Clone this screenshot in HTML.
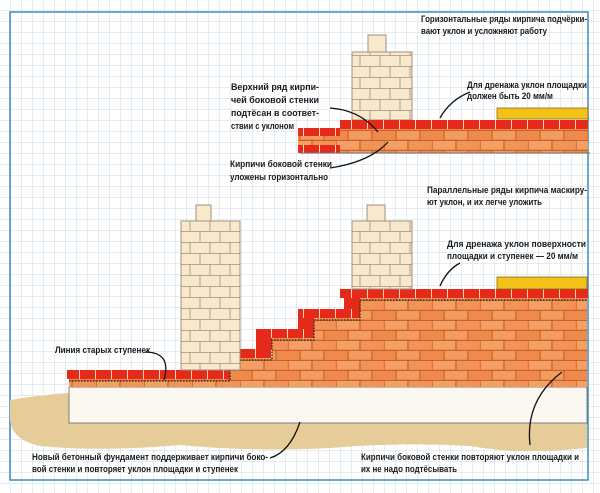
<!DOCTYPE html>
<html><head><meta charset="utf-8"><style>
html,body{margin:0;padding:0;background:#fff}
svg{display:block}
text{font-family:"Liberation Sans","DejaVu Sans",sans-serif;font-weight:bold;font-size:9px;fill:#1a1a1a}
</style></head><body>
<svg width="600" height="493" viewBox="0 0 600 493" xmlns="http://www.w3.org/2000/svg">
<defs>
<pattern id="grid" width="11" height="11" patternUnits="userSpaceOnUse">
<path d="M11 0V11H0" fill="none" stroke="#c9dbe8" stroke-width="1"/>
</pattern>
<pattern id="cream" x="0" y="0" width="40" height="22" patternUnits="userSpaceOnUse">
<rect width="40" height="22" fill="#f8e8cc"/>
<path d="M0 0.5H40M0 11.5H40M10 0V11M30 0V11M0 11V22M20 11V22M40 11V22" stroke="#a09080" stroke-width="0.8" fill="none"/>
</pattern>
<pattern id="orange" x="0" y="0" width="48" height="20" patternUnits="userSpaceOnUse">
<rect width="48" height="20" fill="#ef8a4a"/>
<rect x="1" y="1" width="22" height="8" fill="#f4a064"/>
<rect x="25" y="1" width="22" height="8" fill="#f29458"/>
<rect x="13" y="11" width="22" height="8" fill="#f39c60"/>
<path d="M0 0.5H48M0 10.5H48M0 0V10M24 0V10M12 10V20M36 10V20" stroke="#b8562a" stroke-width="0.8" fill="none"/>
</pattern>
<pattern id="red" x="0" y="0" width="16" height="10" patternUnits="userSpaceOnUse">
<rect width="16" height="10" fill="#e52a1a"/>
<path d="M15.5 0V10" stroke="#ffd0c0" stroke-width="1"/>
</pattern>
</defs>
<rect width="600" height="493" fill="#fff"/>
<rect width="600" height="493" fill="url(#grid)"/>
<rect x="10" y="12" width="578" height="468" fill="none" stroke="#3a8ec0" stroke-width="1.5"/>

<rect x="368" y="35" width="18" height="17" fill="#f8e8cc" stroke="#a09080"/>
<rect x="352" y="52" width="60" height="68" fill="url(#cream)" stroke="#a09080"/>
<rect x="298" y="128" width="290" height="25" fill="url(#orange)"/>
<rect x="298" y="128" width="42" height="8" fill="url(#red)"/>
<rect x="298" y="145" width="42" height="8" fill="url(#red)"/>
<rect x="340" y="120" width="248" height="9" fill="url(#red)"/>
<rect x="497" y="108" width="91" height="11" fill="#f2c21a" stroke="#8a6a10" stroke-width="0.8"/>
<line x1="300" y1="153" x2="590" y2="153" stroke="#777" stroke-width="1"/>

<path d="M10 400 Q40 395 69 393 L587 393 L587 448 Q520 455 470 446 Q400 442 330 448 Q250 452 180 445 Q100 452 40 446 Q12 440 10 420Z" fill="#e6cc98"/>
<rect x="69" y="387" width="518" height="36" fill="#fbf8f2" stroke="#666" stroke-width="0.8"/>

<path d="M69 379 H230 V358 H272 V338 H314 V318 H360 V298 H587 V387 H69Z" fill="url(#orange)"/>
<rect x="67" y="370" width="163" height="9" fill="url(#red)"/>
<rect x="212" y="349" width="60" height="9" fill="url(#red)"/>
<rect x="212" y="358" width="18" height="12" fill="#e52a1a"/>
<rect x="256" y="329" width="58" height="9" fill="url(#red)"/>
<rect x="256" y="338" width="16" height="11" fill="#e52a1a"/>
<rect x="298" y="309" width="62" height="9" fill="url(#red)"/>
<rect x="298" y="318" width="16" height="11" fill="#e52a1a"/>
<rect x="344" y="298" width="16" height="11" fill="#e52a1a"/>
<rect x="340" y="289" width="248" height="9" fill="url(#red)"/>
<path d="M69 381 H230 V360 H272 V340 H314 V320 H360 V300 H587" fill="none" stroke="#222" stroke-width="1.3" stroke-dasharray="1.5 1.5"/>
<rect x="196" y="205" width="15" height="16" fill="#f8e8cc" stroke="#a09080"/>
<rect x="181" y="221" width="59" height="149" fill="url(#cream)" stroke="#a09080"/>
<rect x="367" y="205" width="18" height="16" fill="#f8e8cc" stroke="#a09080"/>
<rect x="352" y="221" width="60" height="68" fill="url(#cream)" stroke="#a09080"/>
<rect x="497" y="277" width="90" height="12" fill="#f2c21a" stroke="#8a6a10" stroke-width="0.8"/>

<g fill="none" stroke="#111" stroke-width="1.3">
<path d="M330 108 Q360 110 378 132"/>
<path d="M330 168 Q370 162 388 142"/>
<path d="M470 92 Q450 100 440 118"/>
<path d="M460 263 Q447 270 440 286"/>
<path d="M145 352 Q172 352 164 380"/>
<path d="M270 458 Q290 452 300 422"/>
<path d="M530 445 Q525 400 562 372"/>
</g>

<text x="421" y="22" textLength="166" lengthAdjust="spacingAndGlyphs">Горизонтальные ряды кирпича подчёрки-</text>
<text x="421" y="34" textLength="126" lengthAdjust="spacingAndGlyphs">вают уклон и усложняют работу</text>
<text x="231" y="90" textLength="88" lengthAdjust="spacingAndGlyphs">Верхний ряд кирпи-</text>
<text x="231" y="103" textLength="88" lengthAdjust="spacingAndGlyphs">чей боковой стенки</text>
<text x="231" y="116" textLength="88" lengthAdjust="spacingAndGlyphs">подтёсан в соответ-</text>
<text x="231" y="129" textLength="63" lengthAdjust="spacingAndGlyphs">ствии с уклоном</text>
<text x="467" y="88" textLength="120" lengthAdjust="spacingAndGlyphs">Для дренажа уклон площадки</text>
<text x="467" y="99" textLength="86" lengthAdjust="spacingAndGlyphs">должен быть 20 мм/м</text>
<text x="230" y="167" textLength="102" lengthAdjust="spacingAndGlyphs">Кирпичи боковой стенки</text>
<text x="230" y="180" textLength="98" lengthAdjust="spacingAndGlyphs">уложены горизонтально</text>
<text x="427" y="193" textLength="160" lengthAdjust="spacingAndGlyphs">Параллельные ряды кирпича маскиру-</text>
<text x="427" y="205" textLength="115" lengthAdjust="spacingAndGlyphs">ют уклон, и их легче уложить</text>
<text x="447" y="247" textLength="139" lengthAdjust="spacingAndGlyphs">Для дренажа уклон поверхности</text>
<text x="447" y="259" textLength="131" lengthAdjust="spacingAndGlyphs">площадки и ступенек — 20 мм/м</text>
<text x="55" y="353" textLength="95" lengthAdjust="spacingAndGlyphs">Линия старых ступенек</text>
<text x="32" y="460" textLength="236" lengthAdjust="spacingAndGlyphs">Новый бетонный фундамент поддерживает кирпичи боко-</text>
<text x="32" y="472" textLength="206" lengthAdjust="spacingAndGlyphs">вой стенки и повторяет уклон площадки и ступенек</text>
<text x="361" y="460" textLength="218" lengthAdjust="spacingAndGlyphs">Кирпичи боковой стенки повторяют уклон площадки и</text>
<text x="361" y="472" textLength="96" lengthAdjust="spacingAndGlyphs">их не надо подтёсывать</text>
</svg>
</body></html>
